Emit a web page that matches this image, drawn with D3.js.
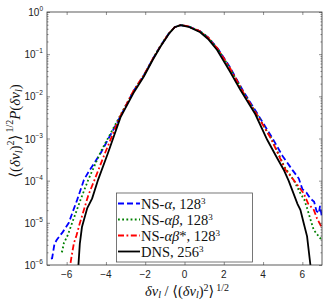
<!DOCTYPE html>
<html>
<head>
<meta charset="utf-8">
<script src="https://cdn.jsdelivr.net/npm/d3@7"></script>
<style>
  body { margin: 0; background: #fff; }
  .tick-label { font-family: "Liberation Sans", Arial, sans-serif; font-size: 10px; fill: #222; }
  .serif { font-family: "Liberation Serif", "DejaVu Serif", serif; fill: #111; }
</style>
</head>
<body>
<div id="chart"></div>
<script>
// 0: DATA (x = normalised increment, logP = log10 of the normalised PDF)
const xNSa   = [-6.8, -6.74, -6.62, -6.5, -6.2, -5.89, -5.7, -5.46, -5.12, -4.87, -4.27, -3.36, -2.6, -2.07, -1.6, -1.22, -0.8, -0.5, -0.2, 0.2, 0.8, 1.2, 1.7, 2.3, 3.02, 3.6, 4.46, 5.0, 5.5, 5.82, 6.0, 6.2, 6.4, 6.6, 6.72, 6.84, 6.9, 6.98];
const logNSa = [-5.85, -5.84, -5.5, -5.4, -5.22, -5.0, -4.75, -4.45, -3.98, -3.78, -3.35, -2.56, -1.88, -1.5, -1.1, -0.8, -0.51, -0.36, -0.31, -0.34, -0.46, -0.6, -0.87, -1.3, -1.9, -2.33, -2.98, -3.42, -3.75, -3.95, -4.2, -4.28, -4.42, -4.5, -4.72, -4.77, -4.6, -4.82];

const xNSab   = [-6.25, -6.22, -6.14, -5.95, -5.72, -5.5, -5.29, -4.9, -4.25, -3.35, -2.6, -2.07, -1.6, -1.22, -0.8, -0.5, -0.2, 0.2, 0.8, 1.2, 1.7, 2.3, 3.02, 3.6, 4.42, 5.1, 5.55, 5.9, 6.1, 6.24, 6.4, 6.58, 6.8, 7.0];
const logNSab = [-5.7, -5.66, -5.48, -5.3, -5.0, -4.72, -4.45, -3.98, -3.3, -2.52, -1.88, -1.5, -1.1, -0.8, -0.51, -0.36, -0.31, -0.34, -0.46, -0.6, -0.88, -1.32, -1.92, -2.36, -3.0, -3.68, -3.98, -4.3, -4.45, -4.65, -4.9, -5.17, -5.3, -5.42];

const xNSabs   = [-5.8, -5.75, -5.63, -5.5, -5.33, -5.12, -4.9, -4.58, -4.05, -3.3, -2.6, -2.07, -1.6, -1.22, -0.8, -0.5, -0.2, 0.2, 0.8, 1.2, 1.7, 2.3, 3.02, 3.6, 4.4, 5.14, 5.55, 6.07, 6.3, 6.58, 6.75, 6.92, 7.0];
const logNSabs = [-5.95, -5.8, -5.48, -5.3, -5.01, -4.69, -4.35, -3.98, -3.35, -2.5, -1.87, -1.5, -1.1, -0.81, -0.51, -0.36, -0.31, -0.34, -0.46, -0.61, -0.88, -1.32, -1.93, -2.37, -3.0, -3.74, -3.98, -4.3, -4.55, -4.69, -4.9, -5.05, -5.1];

const xDNS   = [-5.4, -5.33, -5.22, -5.1, -4.95, -4.7, -4.4, -3.9, -3.26, -2.6, -2.07, -1.6, -1.22, -0.8, -0.5, -0.2, 0.2, 0.8, 1.2, 1.66, 2.3, 2.85, 3.6, 4.21, 4.7, 5.05, 5.3, 5.48, 5.75, 5.9, 6.07, 6.24, 6.41];
const logDNS = [-6.0, -5.5, -5.1, -4.9, -4.65, -4.42, -3.98, -3.35, -2.5, -1.92, -1.53, -1.12, -0.82, -0.52, -0.36, -0.31, -0.35, -0.48, -0.64, -0.9, -1.4, -1.85, -2.42, -3.03, -3.45, -3.74, -4.0, -4.22, -4.55, -4.69, -5.01, -5.32, -6.0];

const seriesNames = ["NS-\u03b1, 128", "NS-\u03b1\u03b2, 128", "NS-\u03b1\u03b2*, 128", "DNS, 256"];
const seriesSups = ["3", "3", "3", "3"];
const xTicks = [-6, -4, -2, 0, 2, 4, 6];
const yTickExps = [0, -1, -2, -3, -4, -5, -6];

// 1: CREATE BLANK SVG
const W = 327, H = 300;
const margin = { top: 12, right: 5, bottom: 35, left: 47 },
      width = W - margin.left - margin.right,   // 275
      height = H - margin.top - margin.bottom;  // 253

const svgRoot = d3.select("#chart").append("svg")
    .attr("width", W).attr("height", H);
const svg = svgRoot.append("g")
    .attr("transform", `translate(${margin.left},${margin.top})`);

// 2: SCALES
const x = d3.scaleLinear().domain([-7, 7]).range([0, width]);
const y = d3.scaleLog().domain([1e-6, 1]).range([height, 0]);

svg.append("clipPath").attr("id", "clip")
  .append("rect").attr("width", width).attr("height", height);

// 3: CURVES
const series = [
  { xs: xNSa,   ls: logNSa,   color: "#0000ff", dash: "6,3" },
  { xs: xNSab,  ls: logNSab,  color: "#008000", dash: "1.8,2.4" },
  { xs: xNSabs, ls: logNSabs, color: "#ff0000", dash: "6,2.5,1.8,2.5" },
  { xs: xDNS,   ls: logDNS,   color: "#000000", dash: null }
];
const line = d3.line().x(d => x(d[0])).y(d => y(d[1]));

series.forEach(s => {
  const pts = s.xs.map((v, i) => [v, Math.pow(10, s.ls[i])]);
  svg.append("path")
    .datum(pts)
    .attr("clip-path", "url(#clip)")
    .attr("fill", "none")
    .attr("stroke", s.color)
    .attr("stroke-width", 1.8)
    .attr("stroke-dasharray", s.dash)
    .attr("d", line);
});

// 4: AXES (MATLAB style box with inward ticks)
const minorVals = [];
for (let e = -6; e < 0; e++) for (let k = 2; k <= 9; k++) minorVals.push(k * Math.pow(10, e));

svg.append("g").call(d3.axisBottom(x).tickValues(xTicks).tickSize(-3).tickFormat(""))
  .attr("transform", `translate(0,${height})`);
svg.append("g").call(d3.axisTop(x).tickValues(xTicks).tickSize(-3).tickFormat(""));
svg.append("g").call(d3.axisLeft(y).tickValues(yTickExps.map(e => Math.pow(10, e))).tickSize(-3).tickFormat(""));
svg.append("g").call(d3.axisLeft(y).tickValues(minorVals).tickSize(-1.5).tickFormat(""));
svg.append("g").call(d3.axisRight(y).tickValues(yTickExps.map(e => Math.pow(10, e))).tickSize(-3).tickFormat(""))
  .attr("transform", `translate(${width},0)`);
svg.append("g").call(d3.axisRight(y).tickValues(minorVals).tickSize(-1.5).tickFormat(""))
  .attr("transform", `translate(${width},0)`);
svg.selectAll(".domain").remove();
svg.selectAll(".tick line").attr("stroke", "#444").attr("stroke-width", 0.6);

svg.append("rect")
  .attr("width", width).attr("height", height)
  .attr("fill", "none").attr("stroke", "#333").attr("stroke-width", 0.8);

// x tick labels
svg.selectAll(".xlab").data(xTicks).enter().append("text")
  .attr("class", "tick-label")
  .attr("x", d => x(d)).attr("y", height + 13)
  .attr("text-anchor", "middle")
  .text(d => d < 0 ? "\u2212" + Math.abs(d) : d);

// y tick labels 10^e
yTickExps.forEach(e => {
  const t = svg.append("text").attr("class", "tick-label")
    .attr("x", -4).attr("y", y(Math.pow(10, e)) + 4)
    .attr("text-anchor", "end");
  t.append("tspan").text("10");
  t.append("tspan").attr("dy", -5).attr("font-size", "6.5px")
    .text(e === 0 ? "0" : "\u2212" + Math.abs(e));
});

// 5: AXIS LABELS
const xl = svgRoot.append("text").attr("class", "serif")
  .attr("x", 187).attr("y", 296).attr("text-anchor", "middle")
  .attr("font-size", "14.5px");
xl.append("tspan").attr("font-style", "italic").text("\u03b4v");
xl.append("tspan").attr("font-style", "italic").attr("font-size", "10px").attr("dy", 2).text("l");
xl.append("tspan").attr("dy", -2).text(" / \u27e8(");
xl.append("tspan").attr("font-style", "italic").text("\u03b4v");
xl.append("tspan").attr("font-style", "italic").attr("font-size", "10px").attr("dy", 2).text("l");
xl.append("tspan").attr("dy", -2).text(")");
xl.append("tspan").attr("font-size", "10px").attr("dy", -5).text("2");
xl.append("tspan").attr("dy", 5).text("\u27e9");
xl.append("tspan").attr("font-size", "10px").attr("dy", -5).attr("dx", 2).text("1/2");

const yl = svgRoot.append("text").attr("class", "serif")
  .attr("transform", "translate(20,131) rotate(-90)")
  .attr("text-anchor", "middle")
  .attr("font-size", "15px");
yl.append("tspan").text("\u27e8(");
yl.append("tspan").attr("font-style", "italic").text("\u03b4v");
yl.append("tspan").attr("font-style", "italic").attr("font-size", "10px").attr("dy", 2).text("l");
yl.append("tspan").attr("dy", -2).text(")");
yl.append("tspan").attr("font-size", "10px").attr("dy", -6).text("2");
yl.append("tspan").attr("dy", 6).text("\u27e9");
yl.append("tspan").attr("font-size", "10px").attr("dy", -7).attr("dx", 2).text("1/2");
yl.append("tspan").attr("dy", 7).attr("font-style", "italic").text("P");
yl.append("tspan").text("(");
yl.append("tspan").attr("font-style", "italic").text("\u03b4v");
yl.append("tspan").attr("font-style", "italic").attr("font-size", "10px").attr("dy", 2).text("l");
yl.append("tspan").attr("dy", -2).text(")");

// 6: LEGEND
const lg = svgRoot.append("g");
lg.append("rect")
  .attr("x", 116.5).attr("y", 193).attr("width", 136).attr("height", 69)
  .attr("fill", "#fff").attr("stroke", "#555").attr("stroke-width", 0.8);
series.forEach((s, i) => {
  const ly = 203.5 + i * 16;
  lg.append("line")
    .attr("x1", 118).attr("x2", 140).attr("y1", ly).attr("y2", ly)
    .attr("stroke", s.color).attr("stroke-width", 1.8)
    .attr("stroke-dasharray", s.dash);
  const t = lg.append("text").attr("class", "serif")
    .attr("x", 141).attr("y", ly + 5).attr("font-size", "14.5px");
  // greek letters set in italic, like TeX math
  let buf = "";
  const flush = () => { if (buf) { t.append("tspan").text(buf); buf = ""; } };
  for (const ch of seriesNames[i]) {
    if (/[\u03b1-\u03c9]/.test(ch)) {
      flush();
      t.append("tspan").attr("font-style", "italic").text(ch);
    } else buf += ch;
  }
  flush();
  t.append("tspan").attr("dy", -4.5).attr("font-size", "9px").text(seriesSups[i]);
});
</script>
</body>
</html>
